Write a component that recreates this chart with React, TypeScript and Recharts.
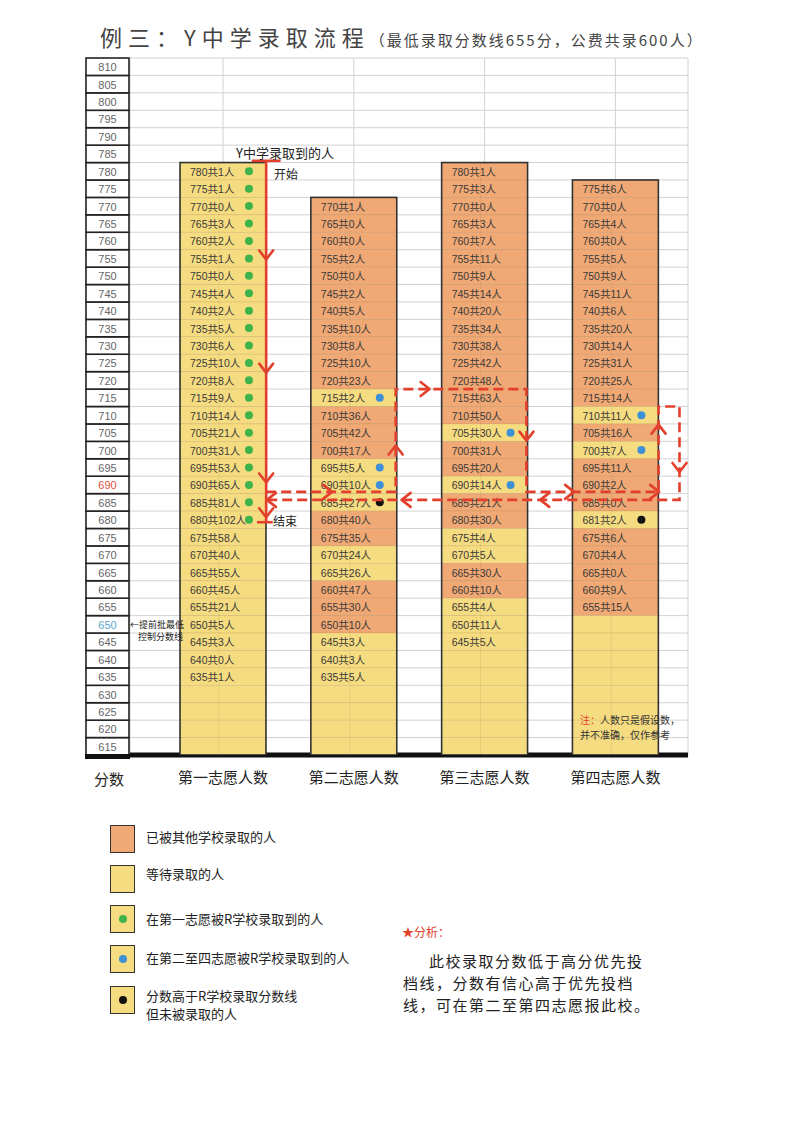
import React from "react";
import { ComposedChart, Scatter, XAxis, YAxis, CartesianGrid } from "recharts";

const NUM_FONT = '"Liberation Sans", "Noto Sans CJK SC", sans-serif';
const CJK_FONT = '"Noto Sans CJK SC", "Liberation Sans", sans-serif';

const columnNames = ["第一志愿人数", "第二志愿人数", "第三志愿人数", "第四志愿人数"];
const columnTops = [780, 770, 780, 775];

// 第一志愿
const col1Scores = [780, 775, 770, 765, 760, 755, 750, 745, 740, 735, 730, 725, 720, 715, 710, 705, 700, 695, 690, 685, 680, 675, 670, 665, 660, 655, 650, 645, 640, 635];
const col1Counts = [1, 1, 0, 3, 2, 1, 0, 4, 2, 5, 6, 10, 8, 9, 14, 21, 31, 53, 65, 81, 102, 58, 40, 55, 45, 21, 5, 3, 0, 1];
const col1Fills = "WWWWWWWWWWWWWWWWWWWWWWWWWWWWWW";
const col1Dots = "GGGGGGGGGGGGGGGGGGGGG---------";

// 第二志愿
const col2Scores = [770, 765, 760, 755, 750, 745, 740, 735, 730, 725, 720, 715, 710, 705, 700, 695, 690, 685, 680, 675, 670, 665, 660, 655, 650, 645, 640, 635];
const col2Counts = [1, 0, 0, 2, 0, 2, 5, 10, 8, 10, 23, 2, 36, 42, 17, 5, 10, 27, 40, 35, 24, 26, 47, 30, 10, 3, 3, 5];
const col2Fills = "OOOOOOOOOOOWOOOWWWOOWWOOOWWW";
const col2Dots = "-----------B---BBK----------";

// 第三志愿
const col3Scores = [780, 775, 770, 765, 760, 755, 750, 745, 740, 735, 730, 725, 720, 715, 710, 705, 700, 695, 690, 685, 680, 675, 670, 665, 660, 655, 650, 645];
const col3Counts = [1, 3, 0, 3, 7, 11, 9, 14, 20, 34, 38, 42, 48, 63, 50, 30, 31, 20, 14, 21, 30, 4, 5, 30, 10, 4, 11, 5];
const col3Fills = "OOOOOOOOOOOOOOOWOOWOOWWOOWWW";
const col3Dots = "---------------B--B---------";

// 第四志愿
const col4Scores = [775, 770, 765, 760, 755, 750, 745, 740, 735, 730, 725, 720, 715, 710, 705, 700, 695, 690, 685, 681, 675, 670, 665, 660, 655];
const col4Counts = [6, 0, 4, 0, 5, 9, 11, 6, 20, 14, 31, 25, 14, 11, 16, 7, 11, 2, 0, 2, 6, 4, 0, 9, 15];
const col4Fills = "OOOOOOOOOOOOOWOWOOOWOOOOO";
const col4Dots = "-------------B-B---K-----";

// 分数轴 (row boundaries 612.5 ... 812.5)
const yBoundaries = Array.from({ length: 41 }, (_, i) => 612.5 + i * 5);

// flow arrows (data units: column index / score)
const flowMain = [{ col: 0.33, score: 783 }, { col: 0.33, score: 679.3 }];
const flowCapTop = [{ col: 0.22, score: 783 }, { col: 0.44, score: 783 }];
const flowCapEnd = [{ col: 0.26, score: 679.3 }, { col: 0.38, score: 679.3 }];
const flowLoop = [
  { col: 0.33, score: 688 }, { col: 1.32, score: 688 }, { col: 1.32, score: 717.5 },
  { col: 2.32, score: 717.5 }, { col: 2.32, score: 688 }, { col: 3.33, score: 688 },
  { col: 3.33, score: 712.5 }, { col: 3.49, score: 712.5 }, { col: 3.49, score: 685.7 },
  { col: 0.33, score: 685.7 },
];
const arrowHeads = [
  { col: 0.33, score: 756, dir: "down" }, { col: 0.33, score: 723.5, dir: "down" },
  { col: 0.33, score: 692, dir: "down" }, { col: 0.33, score: 682, dir: "down" },
  { col: 0.8, score: 688, dir: "right" }, { col: 1.32, score: 700, dir: "up" },
  { col: 1.545, score: 717.5, dir: "right" }, { col: 2.32, score: 704, dir: "down" },
  { col: 2.65, score: 688, dir: "right" }, { col: 3.3, score: 688, dir: "right" },
  { col: 3.33, score: 706, dir: "up" }, { col: 3.49, score: 695, dir: "down" },
  { col: 2.46, score: 685.7, dir: "left" }, { col: 1.4, score: 685.7, dir: "left" },
  { col: 0.37, score: 685.7, dir: "left" },
];

const FILL: Record<string, string> = { W: "#f6dc80", O: "#f0a975" };
const DOT: Record<string, string> = { G: "#3db34a", B: "#3d8fd6", K: "#111" };
const RED = "#e2402c";

const CHART_W = 800;
const CHART_H = 800;
const MARGIN = { top: 58, right: 112, bottom: 10, left: 85 };
const Y_AXIS_W = 45;
const X_AXIS_H = 35;
const PLOT_W = CHART_W - MARGIN.left - MARGIN.right - Y_AXIS_W;
const PLOT_H = CHART_H - MARGIN.top - MARGIN.bottom - X_AXIS_H;
const X_DOMAIN: [number, number] = [-0.711, 3.555];
const Y_DOMAIN: [number, number] = [612.5, 812.5];
const PX_X = PLOT_W / (X_DOMAIN[1] - X_DOMAIN[0]);
const PX_Y = PLOT_H / (Y_DOMAIN[1] - Y_DOMAIN[0]);
const COL_W = 0.657 * PX_X;
const ROW_H = 5 * PX_Y;

const columns = [
  { scores: col1Scores, counts: col1Counts, fills: col1Fills, dots: col1Dots },
  { scores: col2Scores, counts: col2Counts, fills: col2Fills, dots: col2Dots },
  { scores: col3Scores, counts: col3Counts, fills: col3Fills, dots: col3Dots },
  { scores: col4Scores, counts: col4Counts, fills: col4Fills, dots: col4Dots },
];

const cells: any[] = [];
columns.forEach((c, i) => {
  c.scores.forEach((s, j) => {
    cells.push({ col: i, score: Math.round(s / 5) * 5, text: `${s}共${c.counts[j]}人`, fill: c.fills[j], dot: c.dots[j] });
  });
  const last = Math.round(c.scores[c.scores.length - 1] / 5) * 5;
  for (let s = last - 5; s >= 615; s -= 5) cells.push({ col: i, score: s, text: "", fill: "W", dot: "-" });
});

const outlines = columnTops.map((t, i) => ({ col: i, score: (Y_DOMAIN[0] + t + 2.5) / 2, top: t }));

const CellShape = (props: any) => {
  const { cx, cy, payload } = props;
  const x = cx - COL_W / 2;
  const y = cy - ROW_H / 2;
  return (
    <g>
      <rect x={x} y={y} width={COL_W} height={ROW_H} fill={FILL[payload.fill]} stroke="rgba(140,100,50,0.22)" strokeWidth={0.6} />
      <line x1={cx - 4} x2={cx - 4} y1={y} y2={y + ROW_H} stroke="rgba(120,100,60,0.15)" strokeWidth={0.8} />
      {payload.text ? (
        <text x={x + 10} y={cy + 0.5} dominantBaseline="central" fontSize={10.5} fill="#3a3a3a" fontFamily={NUM_FONT}>
          {payload.text}
        </text>
      ) : null}
      {payload.dot !== "-" ? <circle cx={x + COL_W - 17} cy={cy} r={4} fill={DOT[payload.dot]} /> : null}
    </g>
  );
};

const OutlineShape = (props: any) => {
  const { cx, cy, payload } = props;
  const h = (payload.top + 2.5 - Y_DOMAIN[0]) * PX_Y;
  return <rect x={cx - COL_W / 2} y={cy - h / 2} width={COL_W} height={h} fill="none" stroke="#333" strokeWidth={1.6} />;
};

const NoPoint = () => <g />;

const Chevron = (props: any) => {
  const { cx, cy, payload } = props;
  const s = 7;
  const l = 9;
  let d = "";
  if (payload.dir === "down") d = `M${cx - s},${cy - l / 2} L${cx},${cy + l / 2} L${cx + s},${cy - l / 2}`;
  if (payload.dir === "up") d = `M${cx - s},${cy + l / 2} L${cx},${cy - l / 2} L${cx + s},${cy + l / 2}`;
  if (payload.dir === "right") d = `M${cx - l / 2},${cy - s} L${cx + l / 2},${cy} L${cx - l / 2},${cy + s}`;
  if (payload.dir === "left") d = `M${cx + l / 2},${cy - s} L${cx - l / 2},${cy} L${cx + l / 2},${cy + s}`;
  return <path d={d} fill="none" stroke={RED} strokeWidth={2.6} strokeLinecap="round" strokeLinejoin="round" />;
};

const YTick = (props: any) => {
  const { y, payload } = props;
  const v = payload.value + 2.5;
  const bottom = Math.abs(payload.value - Y_DOMAIN[0]) < 0.01;
  const color = v === 690 ? "#e0503c" : v === 650 ? "#5aa8cc" : "#666";
  return (
    <g>
      {v <= 810 ? (
        <>
          <rect x={MARGIN.left + 1} y={y - ROW_H} width={Y_AXIS_W - 2} height={ROW_H} fill="#fff" stroke="#222" strokeWidth={1.6} />
          <text x={MARGIN.left + Y_AXIS_W / 2} y={y - ROW_H / 2 + 0.5} textAnchor="middle" dominantBaseline="central" fontSize={11} fill={color} fontFamily={NUM_FONT}>
            {v}
          </text>
        </>
      ) : null}
      {bottom ? <rect x={MARGIN.left} y={y - 1} width={Y_AXIS_W} height={5} fill="#111" /> : null}
    </g>
  );
};

const XTick = (props: any) => {
  const { x, payload } = props;
  return (
    <text x={x} y={MARGIN.top + PLOT_H + 28} textAnchor="middle" fontSize={15} fill="#222" fontFamily={CJK_FONT}>
      {columnNames[payload.value]}
    </text>
  );
};

const abs = (left: number, top: number, extra: React.CSSProperties = {}): React.CSSProperties => ({
  position: "absolute",
  left,
  top,
  whiteSpace: "nowrap",
  ...extra,
});

const LegendBox = ({ top, fill, dot }: { top: number; fill: string; dot?: string }) => (
  <div style={abs(110, top, { width: 25, height: 28, background: fill, border: "1.3px solid #333", boxSizing: "border-box" })}>
    {dot ? (
      <div style={{ position: "absolute", left: 8, top: 9, width: 8, height: 8, borderRadius: 4, background: dot }} />
    ) : null}
  </div>
);

const solidLine = { stroke: RED, strokeWidth: 2.6 };
const dashedLine = { stroke: RED, strokeWidth: 2.6, strokeDasharray: "10 5" };

export default function App() {
  return (
    <div style={{ position: "absolute", left: 0, top: 0, width: 800, height: 1132, background: "#fff", fontFamily: CJK_FONT, color: "#222" }}>
      <div style={abs(100, 20, { display: "flex", alignItems: "baseline", color: "#444" })}>
        <span style={{ fontSize: 22, letterSpacing: 6 }}>例三：Y中学录取流程</span>
        <span style={{ fontSize: 15, letterSpacing: 2, marginLeft: 0 }}>（最低录取分数线655分，公费共录600人）</span>
      </div>

      <div style={abs(0, 0)}>
        <ComposedChart width={CHART_W} height={CHART_H} margin={MARGIN}>
          <CartesianGrid stroke="#d2d2d2" strokeWidth={1} />
          <XAxis
            type="number"
            dataKey="col"
            domain={X_DOMAIN}
            allowDataOverflow
            ticks={[0, 1, 2, 3]}
            interval={0}
            height={X_AXIS_H}
            tickLine={false}
            axisLine={{ stroke: "#111", strokeWidth: 5 }}
            tick={<XTick />}
          />
          <YAxis
            type="number"
            dataKey="score"
            domain={Y_DOMAIN}
            allowDataOverflow
            ticks={yBoundaries}
            interval={0}
            width={Y_AXIS_W}
            tickLine={false}
            axisLine={false}
            tick={<YTick />}
          />
          <Scatter data={cells} shape={<CellShape />} isAnimationActive={false} />
          <Scatter data={outlines} shape={<OutlineShape />} isAnimationActive={false} />
          <Scatter data={flowMain} line={solidLine} lineType="joint" shape={<NoPoint />} isAnimationActive={false} />
          <Scatter data={flowCapTop} line={solidLine} lineType="joint" shape={<NoPoint />} isAnimationActive={false} />
          <Scatter data={flowCapEnd} line={solidLine} lineType="joint" shape={<NoPoint />} isAnimationActive={false} />
          <Scatter data={flowLoop} line={dashedLine} lineType="joint" shape={<NoPoint />} isAnimationActive={false} />
          <Scatter data={arrowHeads} shape={<Chevron />} isAnimationActive={false} />
        </ComposedChart>
      </div>

      <div style={abs(94, 768, { fontSize: 15 })}>分数</div>
      <div style={abs(236, 143, { fontSize: 13 })}>Y中学录取到的人</div>
      <div style={abs(274, 165, { fontSize: 12 })}>开始</div>
      <div style={abs(273, 512, { fontSize: 12 })}>结束</div>
      <div style={abs(130, 619, { fontSize: 9, lineHeight: "12px" })}>
        ←提前批最低
        <br />
        <span style={{ marginLeft: 8 }}>控制分数线</span>
      </div>
      <div style={abs(580, 712, { fontSize: 10, lineHeight: "15px", color: "#333" })}>
        <span style={{ color: RED }}>注：</span>人数只是假设数，
        <br />
        并不准确，仅作参考
      </div>

      <LegendBox top={825} fill={FILL.O} />
      <div style={abs(146, 827, { fontSize: 13 })}>已被其他学校录取的人</div>
      <LegendBox top={865} fill={FILL.W} />
      <div style={abs(146, 864, { fontSize: 13 })}>等待录取的人</div>
      <LegendBox top={905} fill={FILL.W} dot={DOT.G} />
      <div style={abs(146, 909, { fontSize: 13 })}>在第一志愿被R学校录取到的人</div>
      <LegendBox top={945} fill={FILL.W} dot={DOT.B} />
      <div style={abs(146, 948, { fontSize: 13 })}>在第二至四志愿被R学校录取到的人</div>
      <LegendBox top={986} fill={FILL.W} dot={DOT.K} />
      <div style={abs(146, 987, { fontSize: 13, lineHeight: "18px" })}>
        分数高于R学校录取分数线
        <br />
        但未被录取的人
      </div>

      <div style={abs(402, 923, { fontSize: 12, color: RED })}>★分析：</div>
      <div style={abs(403, 950, { fontSize: 15, lineHeight: "22px", letterSpacing: 1.5 })}>
        <span style={{ marginLeft: 26 }}>此校录取分数低于高分优先投</span>
        <br />
        档线，分数有信心高于优先投档
        <br />
        线，可在第二至第四志愿报此校。
      </div>
    </div>
  );
}
